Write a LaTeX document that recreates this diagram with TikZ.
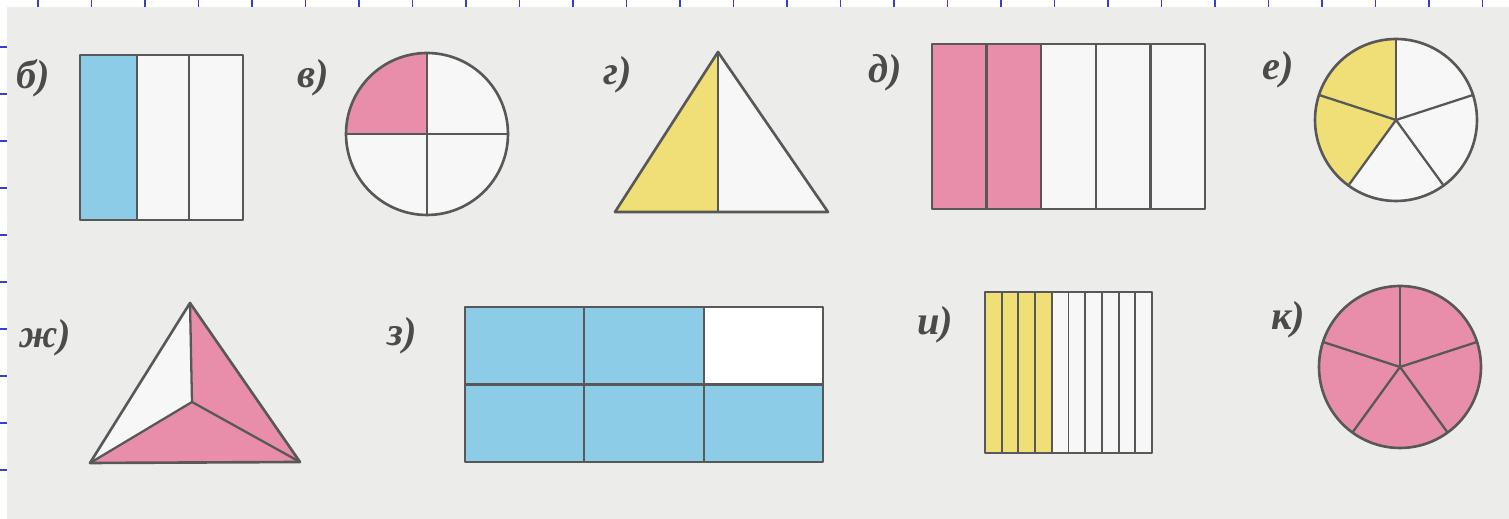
\documentclass[tikz,border=0pt]{standalone}
\usepackage{fontspec}
\setmainfont{Liberation Serif}
\usetikzlibrary{calc}
\definecolor{paper}{RGB}{236,236,234}
\definecolor{fblue}{RGB}{140,204,230}
\definecolor{fpink}{RGB}{232,142,170}
\definecolor{fyellow}{RGB}{240,222,118}
\definecolor{ink}{RGB}{88,88,88}
\definecolor{gridblue}{RGB}{60,60,200}
\tikzset{
  fig/.style={draw=ink, line width=1.5pt, line join=round},
  part/.style={draw=ink, line width=1.3pt},
  lbl/.style={font=\fontsize{23}{25}\selectfont\itshape\bfseries, text=ink!85!black, inner sep=0pt},
}
\begin{document}
\begin{tikzpicture}[x=0.02cm, y=0.02cm]
\useasboundingbox (0,0) rectangle (1509,519);
\fill[paper] (0,0) rectangle (1509,519);
% notebook strips
\fill[white] (0,512) rectangle (1509,519);
\fill[white] (0,0) rectangle (7,519);
\foreach \i in {0,...,27} \draw[gridblue, line width=0.8pt] (38+53.5*\i,512) -- (38+53.5*\i,519);
\foreach \j in {0,...,9} \draw[gridblue, line width=0.8pt] (0,472-47*\j) -- (7,472-47*\j);

% б
\node[lbl] (lb) at (33,441) {б)};
\fill[fblue] (80,299) rectangle (137,464);
\fill[white!60!paper] (137,299) rectangle (243,464);
\draw[fig] (80,299) rectangle (243,464);
\coordinate (b1t) at (137,464); \coordinate (b1b) at (137,299);
\coordinate (b2t) at (189,464); \coordinate (b2b) at (189,299);
\draw[part] (b1t) -- (b1b); \draw[part] (b2t) -- (b2b);

% в
\node[lbl] (lv) at (313,441) {в)};
\coordinate (vc) at (427,385);
\fill[white!60!paper] (vc) circle[radius=1.62cm];
\fill[fpink] (vc) -- ++(90:81) arc[start angle=90, end angle=180, radius=1.62cm] -- cycle;
\draw[fig] (vc) circle[radius=1.62cm];
\draw[part] ($(vc)+(0,81)$) -- ($(vc)+(0,-81)$);
\draw[part] ($(vc)+(-81,0)$) -- ($(vc)+(81,0)$);

% г
\node[lbl] (lg) at (618,444) {г)};
\coordinate (gA) at (718,467); \coordinate (gL) at (615,307);
\coordinate (gR) at (828,307); \coordinate (gM) at (718,307);
\fill[fyellow] (gA) -- (gL) -- (gM) -- cycle;
\fill[white!60!paper] (gA) -- (gM) -- (gR) -- cycle;
\draw[fig] (gA) -- (gL) -- (gR) -- cycle;
\draw[part] (gA) -- (gM);

% д
\node[lbl] (ld) at (885,446) {д)};
\fill[fpink] (932,310) rectangle (1041.2,475);
\fill[white!60!paper] (1041.2,310) rectangle (1205,475);
\draw[fig] (932,310) rectangle (1205,475);
\foreach \k in {1,...,4} \draw[part] (932+54.6*\k,310) -- (932+54.6*\k,475);

% е
\node[lbl] (le) at (1278,449) {е)};
\coordinate (ec) at (1396,399);
\fill[white!60!paper] (ec) circle[radius=1.62cm];
\fill[fyellow] (ec) -- ++(90:81) arc[start angle=90, end angle=234, radius=1.62cm] -- cycle;
\draw[fig] (ec) circle[radius=1.62cm];
\foreach \a in {18,90,162,234,306} \draw[part] (ec) -- ++(\a:81);

% ж
\node[lbl] (lzh) at (45,181) {ж)};
\coordinate (zA) at (190,216); \coordinate (zL) at (90,56);
\coordinate (zR) at (300,57); \coordinate (zC) at (192,117);
\fill[white!60!paper] (zA) -- (zC) -- (zL) -- cycle;
\fill[fpink] (zA) -- (zC) -- (zR) -- cycle;
\fill[fpink] (zL) -- (zC) -- (zR) -- cycle;
\draw[fig] (zA) -- (zL) -- (zR) -- cycle;
\draw[part] (zA) -- (zC) (zL) -- (zC) (zR) -- (zC);

% з
\node[lbl] (lz) at (402,183) {з)};
\fill[fblue] (465,57) rectangle (823,212);
\fill[white] (704.3,134.5) rectangle (823,212);
\draw[fig] (465,57) rectangle (823,212);
\draw[part] (465,134.5) -- (823,134.5);
\draw[part] (584.3,57) -- (584.3,212);
\draw[part] (704.3,57) -- (704.3,212);

% и
\node[lbl] (li) at (935,194) {и)};
\fill[fyellow] (985,66) rectangle (1051.8,227);
\fill[white!60!paper] (1051.8,66) rectangle (1152,227);
\draw[fig] (985,66) rectangle (1152,227);
\foreach \k in {1,...,9} \draw[part, line width=1.1pt] (985+16.7*\k,66) -- (985+16.7*\k,227);

% к
\node[lbl] (lk) at (1288,199) {к)};
\coordinate (kc) at (1400,152);
\fill[fpink] (kc) circle[radius=1.62cm];
\draw[fig] (kc) circle[radius=1.62cm];
\foreach \a in {18,90,162,234,306} \draw[part] (kc) -- ++(\a:81);
\end{tikzpicture}
\end{document}
